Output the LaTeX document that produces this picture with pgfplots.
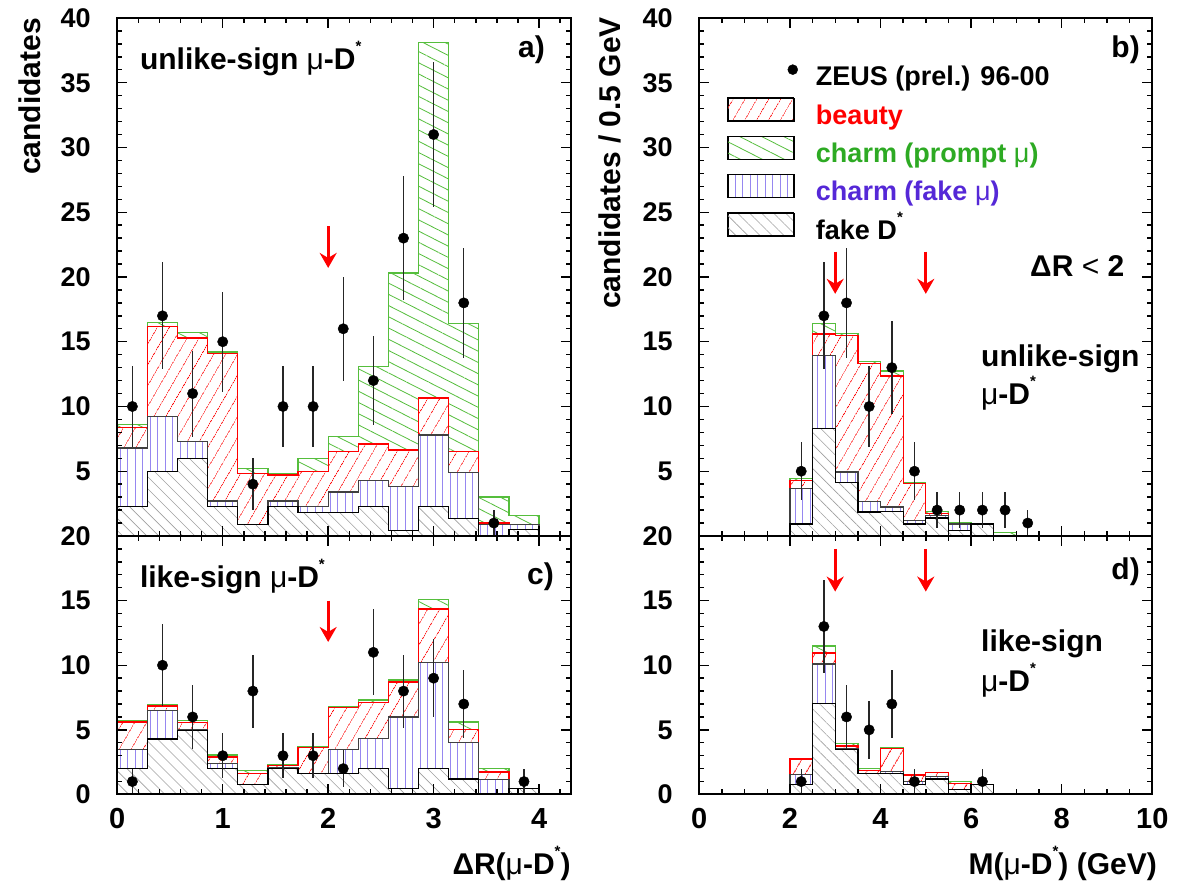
\documentclass[border=0pt]{standalone}
\usepackage{fontspec}
\setmainfont{Liberation Sans}
\usepackage{pgfplots}
\pgfplotsset{compat=1.18}
\usepackage{pgfplotstable}
\usetikzlibrary{patterns.meta, arrows.meta}

\definecolor{cpline}{RGB}{85,190,60}
\definecolor{cptext}{RGB}{45,170,35}
\definecolor{cfline}{RGB}{150,135,240}
\definecolor{cftext}{RGB}{85,40,215}
\definecolor{fdline}{RGB}{160,160,160}

\tikzset{
  beautyfill/.style={pattern={Lines[angle=60,distance=10.5pt,line width=0.9pt]}, pattern color=red},
  promptfill/.style={pattern={Lines[angle=-27,distance=10pt,line width=0.8pt]}, pattern color=cpline},
  fakemufill/.style={pattern={Lines[angle=90,distance=7.5pt,line width=0.6pt]}, pattern color=cfline},
  fakeDfill/.style={pattern={Lines[angle=-45,distance=8.5pt,line width=0.6pt]}, pattern color=fdline},
  cutarrow/.style={red, line width=3.2pt, -{Stealth[length=15pt,width=17pt,inset=5pt]}},
}

\newcommand{\Dst}{D\raisebox{0.62em}{\fontsize{15}{15}\selectfont *}}
\newcommand{\mmu}{{\mdseries μ}}

% cumulative levels: fake D*, +charm (fake mu), +beauty, +charm (prompt mu)
% first column: lower bin edge; last row repeats the last bin at the upper edge
\pgfplotstableread{
x      fD   cf   b     tot
0.0000 2.30 6.80 8.40  8.60
0.2857 5.00 9.20 16.20 16.50
0.5714 6.00 7.30 15.30 15.70
0.8571 2.30 2.70 14.10 14.20
1.1429 0.90 0.90 4.80  5.20
1.4286 2.30 2.70 4.70  4.80
1.7143 1.80 2.30 5.00  6.00
2.0000 1.80 3.40 6.50  7.70
2.2857 2.30 4.30 7.10  13.10
2.5714 0.45 3.80 6.65  20.30
2.8571 2.30 7.80 10.65 38.10
3.1429 1.35 4.90 6.50  16.40
3.4286 0.00 0.90 1.00  3.00
3.7143 0.50 0.90 0.90  1.60
4.0000 0.50 0.90 0.90  1.60
}\histA

\pgfplotstableread{
x      fD   cf    b     tot
0.0000 2.00 3.50  5.60  5.75
0.2857 4.30 6.50  6.85  6.95
0.5714 4.95 5.05  5.55  5.75
0.8571 2.00 2.40  2.90  3.05
1.1429 0.80 0.80  1.65  1.85
1.4286 2.00 2.05  2.25  2.30
1.7143 1.60 1.60  3.65  3.70
2.0000 1.60 3.50  6.75  6.80
2.2857 2.00 4.35  7.10  7.30
2.5714 0.45 6.00  8.70  8.85
2.8571 2.00 10.20 14.35 15.10
3.1429 1.20 4.00  5.05  5.60
3.4286 0.00 1.15  1.75  2.00
3.7143 0.45 0.45  0.45  0.45
4.0000 0.45 0.45  0.45  0.45
}\histC

\pgfplotstableread{
x   fD   cf    b     tot
2.0 0.93 3.65  4.30  4.42
2.5 8.30 13.95 15.60 16.40
3.0 4.15 4.95  15.50 15.65
3.5 1.85 2.65  13.30 13.50
4.0 1.90 2.25  12.35 12.75
4.5 0.93 1.20  4.05  4.10
5.0 1.40 1.60  1.75  1.90
5.5 0.45 0.93  0.98  1.00
6.0 0.93 0.93  0.93  0.93
6.5 0.00 0.00  0.00  0.28
7.0 0.00 0.00  0.00  0.28
}\histB

\pgfplotstableread{
x   fD   cf    b     tot
2.0 0.80 1.55  2.75  2.80
2.5 7.05 10.10 10.95 11.50
3.0 3.50 3.55  3.75  3.95
3.5 1.60 1.60  1.85  2.00
4.0 1.60 1.80  3.55  3.60
4.5 0.80 1.00  1.50  1.55
5.0 1.20 1.40  1.70  1.72
5.5 0.40 0.40  0.85  0.98
6.0 0.80 0.80  0.80  0.80
6.5 0.80 0.80  0.80  0.80
}\histD

% measured candidates with statistical errors
\pgfplotstableread{
x      y  e
0.1429 10 3.16
0.4286 17 4.12
0.7143 11 3.32
1.0000 15 3.87
1.2857 4  2.00
1.5714 10 3.16
1.8571 10 3.16
2.1429 16 4.00
2.4286 12 3.46
2.7143 23 4.80
3.0000 31 5.57
3.2857 18 4.24
3.5714 1  1.00
}\dataA

\pgfplotstableread{
x      y  e
0.1429 1  1.00
0.4286 10 3.16
0.7143 6  2.45
1.0000 3  1.73
1.2857 8  2.83
1.5714 3  1.73
1.8571 3  1.73
2.1429 2  1.41
2.4286 11 3.32
2.7143 8  2.83
3.0000 9  3.00
3.2857 7  2.65
3.8571 1  1.00
}\dataC

\pgfplotstableread{
x    y  e
2.25 5  2.24
2.75 17 4.12
3.25 18 4.24
3.75 10 3.16
4.25 13 3.61
4.75 5  2.24
5.25 2  1.41
5.75 2  1.41
6.25 2  1.41
6.75 2  1.41
7.25 1  1.00
}\dataB

\pgfplotstableread{
x    y  e
2.25 1  1.00
2.75 13 3.61
3.25 6  2.45
3.75 5  2.24
4.25 7  2.65
4.75 1  1.00
6.25 1  1.00
}\dataD

\newcommand{\stackhist}[1]{%
  \addplot[const plot, forget plot, mark=none, draw=cpline, line width=1.3pt, promptfill, preaction={fill=white}] table[x=x,y=tot]{#1} \closedcycle;
  \addplot[const plot, forget plot, mark=none, draw=red, line width=1.3pt, beautyfill, preaction={fill=white}] table[x=x,y=b]{#1} \closedcycle;
  \addplot[const plot, forget plot, mark=none, draw=black!75, line width=1.3pt, fakemufill, preaction={fill=white}] table[x=x,y=cf]{#1} \closedcycle;
  \addplot[const plot, forget plot, mark=none, draw=black, line width=1.3pt, fakeDfill, preaction={fill=white}] table[x=x,y=fD]{#1} \closedcycle;
}
\newcommand{\datapoints}[1]{%
  \addplot[forget plot, only marks, mark=*, mark size=5.2pt, black,
    error bars/.cd, y dir=both, y explicit, error mark=none,
    error bar style={line width=1.4pt, black!85}]
    table[x=x, y=y, y error=e]{#1};
}
\newcommand{\boxlegend}[1]{\addlegendimage{legend image code/.code={%
  \path[draw=none, fill=none] (0pt,-4pt) rectangle (70pt,19pt);
  \draw[black, line width=1.2pt, preaction={fill=white}, #1] (0pt,-4pt) rectangle (66pt,19pt);}}}

\pgfplotsset{
  panel/.style={
    scale only axis, axis on top, enlargelimits=false,
    tick align=inside,
    major tick length=10pt, minor tick length=5pt,
    tick style={line width=1.4pt, black},
    axis line style={line width=2pt},
    /pgf/number format/assume math mode=true,
    yticklabel style={font=\bfseries\fontsize{27}{27}\selectfont, anchor=east, inner sep=0pt, xshift=-26.5pt},
    xticklabel style={font=\bfseries\fontsize{29}{29}\selectfont, anchor=north, inner sep=0pt, yshift=-13.5pt},
  },
  leftpanel/.style={panel, width=453.4pt, xmin=0, xmax=4.3,
    xtick={0,1,2,3,4}, minor xtick={0.2,0.4,...,4.21}},
  rightpanel/.style={panel, width=453pt, xmin=0, xmax=10,
    xtick={0,2,...,10}, minor xtick={0.5,1,...,9.6}},
  toppanel/.style={height=518pt, ymin=0, ymax=40, ytick={5,10,...,40},
    minor ytick={1,2,...,39}, xticklabels={}},
  botpanel/.style={height=258.5pt, ymin=0, ymax=20, ytick={0,5,...,20},
    minor ytick={1,2,...,19}},
}

\begin{document}
\begin{tikzpicture}
\useasboundingbox (0pt,0pt) rectangle (1184pt,882pt);

% a) unlike-sign, Delta R
\begin{axis}[leftpanel, toppanel, at={(117.3pt,346pt)}, anchor=south west]
  \stackhist{\histA}
  \datapoints{\dataA}
  \draw[cutarrow] (axis cs:2,23.9) -- (axis cs:2,20.7);
\end{axis}

% c) like-sign, Delta R
\begin{axis}[leftpanel, botpanel, at={(117.3pt,87.5pt)}, anchor=south west]
  \stackhist{\histC}
  \datapoints{\dataC}
  \draw[cutarrow] (axis cs:2,15.0) -- (axis cs:2,11.8);
\end{axis}

% b) unlike-sign, mass
\begin{axis}[rightpanel, toppanel, at={(699.3pt,346pt)}, anchor=south west,
  legend style={draw=none, fill=none, at={(0.0611,0.92)}, anchor=north west,
    inner sep=0pt, row sep=6.5pt, column sep=0pt,
    font=\bfseries\fontsize{27}{27}\selectfont,
    nodes={inner sep=0pt, text height=19.5pt, text depth=5pt},
    /tikz/every odd column/.append style={column sep=18pt}},
  legend cell align=left]
  \stackhist{\histB}
  \datapoints{\dataB}
  \draw[cutarrow] (axis cs:3,21.95) -- (axis cs:3,18.7);
  \draw[cutarrow] (axis cs:5,21.95) -- (axis cs:5,18.7);
  \addlegendimage{legend image code/.code={%
    \path[draw=none, fill=none] (0pt,-4pt) rectangle (70pt,19pt);
    \fill[black] (65pt,9pt) circle (5pt);}}
  \addlegendentry{ZEUS (prel.) 96-00}
  \boxlegend{beautyfill}
  \addlegendentry{\textcolor{red}{beauty}}
  \boxlegend{promptfill}
  \addlegendentry{\textcolor{cptext}{charm (prompt \mmu)}}
  \boxlegend{fakemufill}
  \addlegendentry{\textcolor{cftext}{charm (fake \mmu)}}
  \boxlegend{fakeDfill}
  \addlegendentry{fake \Dst}
\end{axis}

% d) like-sign, mass
\begin{axis}[rightpanel, botpanel, at={(699.3pt,87.5pt)}, anchor=south west]
  \stackhist{\histD}
  \datapoints{\dataD}
  \draw[cutarrow] (axis cs:3,19.0) -- (axis cs:3,15.7);
  \draw[cutarrow] (axis cs:5,19.0) -- (axis cs:5,15.7);
\end{axis}

% panel texts
\begin{scope}[every node/.style={font=\bfseries\fontsize{30}{30}\selectfont, inner sep=0pt}]
  \node[anchor=base west] at (139.8pt,812pt) {unlike-sign \mmu-\Dst};
  \node[anchor=base east] at (545pt,824pt) {a)};
  \node[anchor=base west] at (139.8pt,294pt) {like-sign \mmu-\Dst};
  \node[anchor=base east] at (554pt,297pt) {c)};
  \node[anchor=base east] at (1140pt,824pt) {b)};
  \node[anchor=base east] at (1140pt,302pt) {d)};
  \node[anchor=base west] at (1030pt,605pt) {ΔR {\mdseries <} 2};
  \node[anchor=base west] at (981pt,515pt) {unlike-sign};
  \node[anchor=base west] at (981pt,477pt) {\mmu-\Dst};
  \node[anchor=base west] at (981pt,230.3pt) {like-sign};
  \node[anchor=base west] at (981pt,190.3pt) {\mmu-\Dst};
  \node[anchor=base east] at (570.7pt,7pt) {ΔR(\mmu-\Dst)};
  \node[anchor=base east] at (1157pt,7pt) {M(\mmu-\Dst) (GeV)};
  \node[anchor=base east, rotate=90] at (40pt,864pt) {candidates};
  \node[anchor=base east, rotate=90] at (620pt,865pt) {candidates / 0.5 GeV};
\end{scope}
\end{tikzpicture}
\end{document}
